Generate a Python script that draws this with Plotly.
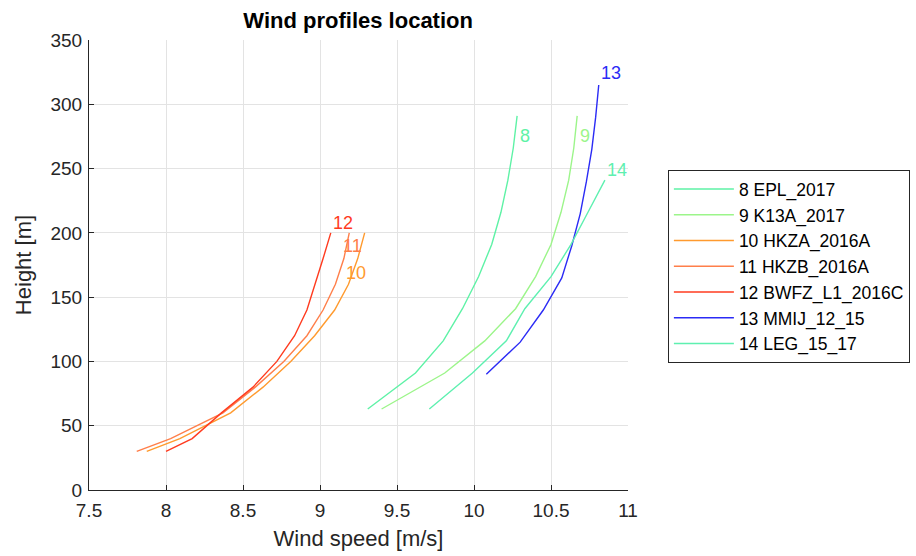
import plotly.graph_objects as go

# ---- data ----
names = ["8 EPL_2017", "9 K13A_2017", "10 HKZA_2016A", "11 HKZB_2016A",
         "12 BWFZ_L1_2016C", "13 MMIJ_12_15", "14 LEG_15_17"]
short = ["8", "9", "10", "11", "12", "13", "14"]
colors = ["#5EF2A6", "#9CF58A", "#FF9A2E", "#FF7F4A", "#FF3B1F", "#2B2BF5", "#5EF0B0"]

h_epl = [63, 91, 116, 141, 166, 191, 216, 241, 266, 291]
v_epl = [9.31, 9.62, 9.80, 9.925, 10.03, 10.115, 10.175, 10.22, 10.255, 10.28]

h_k13 = [63, 91, 116, 141, 166, 191, 216, 241, 266, 291]
v_k13 = [9.40, 9.81, 10.07, 10.27, 10.40, 10.50, 10.565, 10.615, 10.648, 10.67]

h_hkz = [30, 40, 60, 80, 100, 120, 140, 160, 180, 200]
v_hkza = [7.875, 8.09, 8.42, 8.63, 8.81, 8.965, 9.095, 9.185, 9.245, 9.29]
v_hkzb = [7.81, 8.03, 8.37, 8.58, 8.765, 8.915, 9.02, 9.10, 9.155, 9.19]
v_bwfz = [8.00, 8.17, 8.36, 8.565, 8.72, 8.835, 8.915, 8.97, 9.02, 9.07]

h_mmij = [90, 115, 140, 165, 190, 215, 240, 265, 290, 315]
v_mmij = [10.08, 10.30, 10.45, 10.57, 10.635, 10.69, 10.73, 10.765, 10.79, 10.81]

h_leg = [63, 91, 116, 141, 166, 191, 216, 241]
v_leg = [9.71, 9.99, 10.21, 10.33, 10.50, 10.63, 10.74, 10.85]

speeds = [v_epl, v_k13, v_hkza, v_hkzb, v_bwfz, v_mmij, v_leg]
heights = [h_epl, h_k13, h_hkz, h_hkz, h_hkz, h_mmij, h_leg]

# label positions for the curve numbers (speed, height)
label_x = [10.33, 10.72, 9.234, 9.21, 9.149, 10.89, 10.93]
label_y = [275, 275, 169, 190, 208, 324, 249]

FONT = "Liberation Sans, Arial, Helvetica, sans-serif"
TXT = "#262626"

fig = go.Figure()
for i in range(len(names)):
    fig.add_trace(go.Scatter(
        x=speeds[i], y=heights[i], mode="lines", name=names[i],
        line=dict(color=colors[i], width=1.4),
    ))
    fig.add_annotation(x=label_x[i], y=label_y[i], text=short[i], showarrow=False,
                       xanchor="center", yanchor="middle",
                       font=dict(family=FONT, size=18, color=colors[i]))

fig.update_layout(
    width=916, height=556,
    margin=dict(l=89, r=288, t=40, b=66, autoexpand=False),
    paper_bgcolor="white", plot_bgcolor="white",
    font=dict(family=FONT, color=TXT),
    title=dict(text="<b>Wind profiles location</b>", x=0.391, xanchor="center",
               y=1 - 20 / 556, yanchor="middle",
               font=dict(family=FONT, size=22, color="#000000")),
    legend=dict(x=1.074, xanchor="left", y=0.711, yanchor="top",
                bgcolor="white", bordercolor=TXT, borderwidth=1,
                font=dict(family=FONT, size=17.5, color="#000000"),
                itemwidth=60, tracegroupgap=0),
    showlegend=True,
)
fig.update_xaxes(range=[7.5, 11], dtick=0.5, tick0=7.5, showgrid=True,
                 gridcolor="#E3E3E3", gridwidth=1, zeroline=False,
                 showline=True, linecolor=TXT, linewidth=1,
                 ticks="inside", ticklen=5, tickcolor=TXT,
                 ticklabelstandoff=3,
                 tickfont=dict(family=FONT, size=19, color=TXT),
                 title=dict(text="Wind speed [m/s]", standoff=10,
                            font=dict(family=FONT, size=22, color=TXT)))
fig.update_yaxes(range=[0, 350], dtick=50, showgrid=True,
                 gridcolor="#E3E3E3", gridwidth=1, zeroline=False,
                 showline=True, linecolor=TXT, linewidth=1,
                 ticks="inside", ticklen=5, tickcolor=TXT,
                 ticklabelstandoff=2,
                 tickfont=dict(family=FONT, size=19, color=TXT),
                 title=dict(text="Height [m]", standoff=12,
                            font=dict(family=FONT, size=22, color=TXT)))

fig.write_html("out.html")
